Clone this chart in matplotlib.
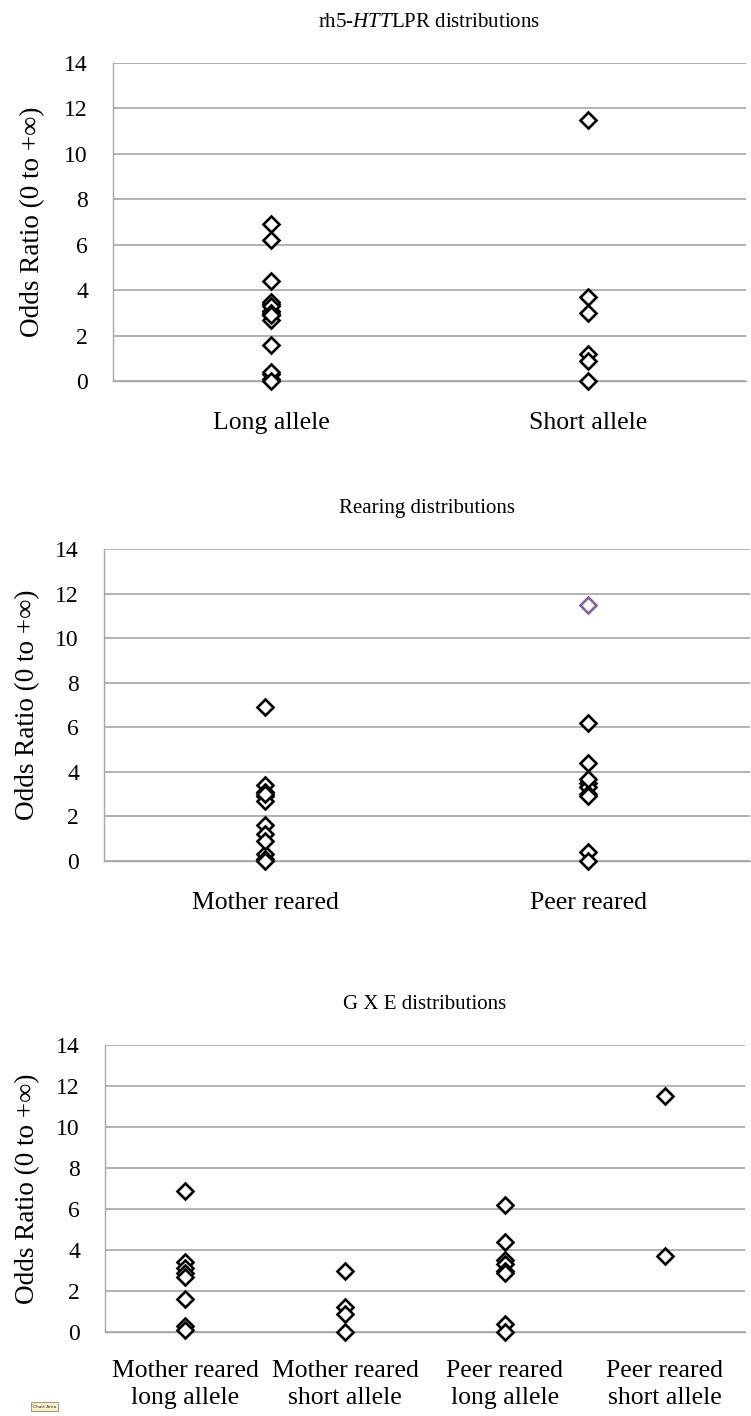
import matplotlib
matplotlib.use("Agg")
import matplotlib.pyplot as plt
from matplotlib.patches import Rectangle

# Odds ratios per group (rearing x allele)
MR_LONG = [6.9, 3.4, 3.1, 2.9, 2.7, 1.6, 0.3, 0.1]
MR_SHORT = [3.0, 1.2, 0.9, 0.0]
PR_LONG = [6.2, 4.4, 3.5, 3.3, 3.0, 2.9, 0.4, 0.0]
PR_SHORT = [11.5, 3.7]

ALLELE_CATS = ["Long allele", "Short allele"]
REARING_CATS = ["Mother reared", "Peer reared"]
GXE_CATS = ["Mother reared\nlong allele", "Mother reared\nshort allele",
            "Peer reared\nlong allele", "Peer reared\nshort allele"]
YTICKS = [0, 2, 4, 6, 8, 10, 12, 14]

GRID = "#a6a6a6"
PURPLE = "#8064a2"

plt.rcParams.update({
    "font.family": ["Liberation Serif", "DejaVu Serif"],
    "mathtext.fontset": "custom",
    "mathtext.rm": "Liberation Serif",
    "mathtext.it": "Liberation Serif:italic",
})

fig = plt.figure(figsize=(7.51, 14.16), dpi=100)


def panel(rect, title, cats, groups, colors=None, xpad=22):
    ax = fig.add_axes(rect)
    for i, vals in enumerate(groups):
        for j, v in enumerate(vals):
            c = "black"
            if colors and (i, j) in colors:
                c = colors[(i, j)]
            ax.plot(i, v, marker="D", ms=8.6, mfc="white", mec=c, mew=1.9,
                    ls="none", clip_on=False, zorder=3)
    ax.set_xlim(-0.5, len(cats) - 0.5)
    ax.set_ylim(0, 14)
    ax.set_yticks(YTICKS)
    ax.set_xticks(range(len(cats)))
    ax.set_xticklabels(cats, fontsize=18.5, linespacing=1.3)
    ax.tick_params(axis="y", length=0, pad=18, labelsize=17)
    ax.tick_params(axis="x", length=0, pad=xpad)
    ax.yaxis.grid(True, color=GRID, lw=1.2)
    ax.set_axisbelow(True)
    for s in ("top", "right"):
        ax.spines[s].set_visible(False)
    for s in ("left", "bottom"):
        ax.spines[s].set_color(GRID)
        ax.spines[s].set_linewidth(1.0)
    ax.set_ylabel("Odds Ratio (0 to +\u221e)", fontsize=19.5)
    ax.set_title(title, fontsize=15, pad=26)
    return ax


W, H = 751, 1416


def rect(left, right, top, bottom):
    return [left / W, 1 - bottom / H, (right - left) / W, (bottom - top) / H]


ax1 = panel(rect(113, 746, 63, 381), r"rh5-$\mathit{HTT}$LPR distributions",
            ALLELE_CATS, [MR_LONG + PR_LONG, MR_SHORT + PR_SHORT])
ax1.yaxis.set_label_coords(-0.107, 0.5)

ax2 = panel(rect(104, 750, 549, 861), "Rearing distributions",
            REARING_CATS, [MR_LONG + MR_SHORT, PR_LONG + PR_SHORT],
            colors={(1, len(PR_LONG)): PURPLE})
ax2.yaxis.set_label_coords(-0.099, 0.5)

ax3 = panel(rect(105, 745, 1045, 1332), "G X E distributions",
            GXE_CATS, [MR_LONG, MR_SHORT, PR_LONG, PR_SHORT], xpad=20)
ax3.yaxis.set_label_coords(-0.1015, 0.5)

# small "Chart Area" hover tag in the lower-left corner
fig.patches.append(Rectangle((31 / W, 1 - 1411 / H), 27 / W, 9 / H,
                             transform=fig.transFigure, fc="#f5f0c8",
                             ec="#8a8a6a", lw=0.6))
fig.text(44.5 / W, 1 - 1406.5 / H, "Chart Area", fontsize=3.2,
         ha="center", va="center", family="DejaVu Sans", color="#333333")

fig.savefig("out.png", dpi=100)
